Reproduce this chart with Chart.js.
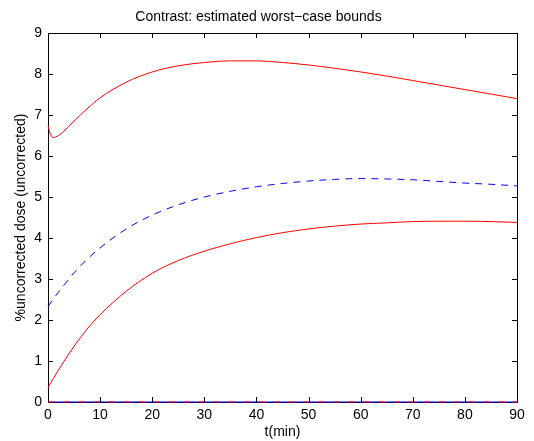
<!DOCTYPE html>
<html>
<head>
<meta charset="utf-8">
<script src="https://cdn.jsdelivr.net/npm/chart.js@4.4.1/dist/chart.umd.min.js"></script>
<style>
  html, body { margin: 0; padding: 0; background: #fff; }
  #wrap { width: 534px; height: 441px; }
</style>
</head>
<body>
<div id="wrap"><canvas id="boundsChart"></canvas></div>
<script>
// time grid (minutes)
var tMin = [0, 0.5, 1, 2, 3, 5, 7.5, 10, 15, 20, 25, 30, 35, 40, 45, 50, 55, 60, 65, 70, 75, 80, 85, 90];

// upper red bound
var upperRed = [6.74, 6.52, 6.45, 6.5, 6.6, 6.85, 7.15, 7.42, 7.8, 8.05, 8.2, 8.28, 8.32, 8.32, 8.28, 8.22, 8.14, 8.05, 7.95, 7.84, 7.73, 7.62, 7.51, 7.40];
// blue dashed estimate
var blueDashed = [2.33, 2.42, 2.51, 2.68, 2.84, 3.15, 3.48, 3.76, 4.22, 4.56, 4.81, 5.0, 5.14, 5.25, 5.33, 5.39, 5.43, 5.45, 5.44, 5.42, 5.38, 5.34, 5.31, 5.27];
// lower red bound
var lowerRed = [0.35, 0.46, 0.57, 0.78, 0.98, 1.36, 1.78, 2.13, 2.7, 3.14, 3.45, 3.68, 3.86, 4.01, 4.13, 4.22, 4.29, 4.34, 4.37, 4.40, 4.41, 4.41, 4.40, 4.38];
// lines lying on zero
var redZero = [0, 0, 0, 0, 0, 0, 0, 0, 0, 0, 0, 0, 0, 0, 0, 0, 0, 0, 0, 0, 0, 0, 0, 0];
var blueZero = [0, 0, 0, 0, 0, 0, 0, 0, 0, 0, 0, 0, 0, 0, 0, 0, 0, 0, 0, 0, 0, 0, 0, 0];

var xTicks = [0, 10, 20, 30, 40, 50, 60, 70, 80, 90];
var yTicks = [0, 1, 2, 3, 4, 5, 6, 7, 8, 9];

function pts(ys) {
  return tMin.map(function (t, i) { return { x: t, y: ys[i] }; });
}

var fontFam = "'Liberation Sans', Arial, Helvetica, sans-serif";

// axes box with inward ticks on all four sides, MATLAB style
var boxPlugin = {
  id: 'boxPlugin',
  beforeDatasetsDraw: function (chart) {
    var c = chart.ctx, a = chart.chartArea;
    var sx = chart.scales.x, sy = chart.scales.y;
    c.save();
    c.strokeStyle = '#000';
    c.lineWidth = 1;
    c.beginPath();
    xTicks.forEach(function (v) {
      var px = Math.round(sx.getPixelForValue(v)) + 0.5;
      c.moveTo(px, a.bottom); c.lineTo(px, a.bottom - 5);
      c.moveTo(px, a.top); c.lineTo(px, a.top + 5);
    });
    yTicks.forEach(function (v) {
      var py = Math.round(sy.getPixelForValue(v)) + 0.5;
      c.moveTo(a.left, py); c.lineTo(a.left + 5, py);
      c.moveTo(a.right, py); c.lineTo(a.right - 5, py);
    });
    c.stroke();
    c.strokeRect(Math.round(a.left) + 0.5, Math.round(a.top) + 0.5,
      Math.round(a.right - a.left), Math.round(a.bottom - a.top));
    c.restore();
  }
};

var ctx = document.getElementById('boundsChart').getContext('2d');
var boundsChart = new Chart(ctx, {
  type: 'line',
  data: {
    datasets: [
      { data: pts(redZero), borderColor: '#ff0000', borderWidth: 1, borderDash: [7, 8], pointRadius: 0, clip: false },
      { data: pts(blueZero), borderColor: '#0000ff', borderWidth: 1, pointRadius: 0, clip: false },
      { data: pts(upperRed), borderColor: '#ff0000', borderWidth: 1, pointRadius: 0, cubicInterpolationMode: 'monotone', clip: false },
      { data: pts(blueDashed), borderColor: '#0000ff', borderWidth: 1, borderDash: [7, 6], pointRadius: 0, cubicInterpolationMode: 'monotone', clip: false },
      { data: pts(lowerRed), borderColor: '#ff0000', borderWidth: 1, pointRadius: 0, cubicInterpolationMode: 'monotone', clip: false }
    ]
  },
  options: {
    responsive: true,
    maintainAspectRatio: false,
    animation: false,
    events: [],
    layout: { padding: { left: 0, right: 17, top: 0, bottom: 0 } },
    plugins: {
      legend: { display: false },
      tooltip: { enabled: false },
      title: {
        display: true,
        text: 'Contrast: estimated worst\u2212case bounds',
        color: '#000',
        font: { family: fontFam, size: 14, weight: 'normal' },
        padding: { top: 8.6, bottom: 7.6 }
      }
    },
    scales: {
      x: {
        type: 'linear',
        min: 0, max: 90,
        afterFit: function (s) { s.height = 39; },
        afterBuildTicks: function (s) { s.ticks = xTicks.map(function (v) { return { value: v }; }); },
        grid: { display: false, drawTicks: false },
        border: { display: false },
        ticks: { color: '#000', padding: 5, maxRotation: 0, font: { family: fontFam, size: 14 } },
        title: { display: true, text: 't(min)', color: '#000', padding: { top: 0, bottom: 0 }, font: { family: fontFam, size: 14 } }
      },
      y: {
        type: 'linear',
        min: 0, max: 9,
        afterFit: function (s) { s.width = 48; },
        afterBuildTicks: function (s) { s.ticks = yTicks.map(function (v) { return { value: v }; }); },
        grid: { display: false, drawTicks: false },
        border: { display: false },
        ticks: { color: '#000', padding: 6, font: { family: fontFam, size: 14 } },
        title: { display: true, text: '%uncorrected dose (uncorrected)', color: '#000', padding: { top: 13, bottom: 0 }, font: { family: fontFam, size: 14 } }
      }
    }
  },
  plugins: [boxPlugin]
});
</script>
</body>
</html>
